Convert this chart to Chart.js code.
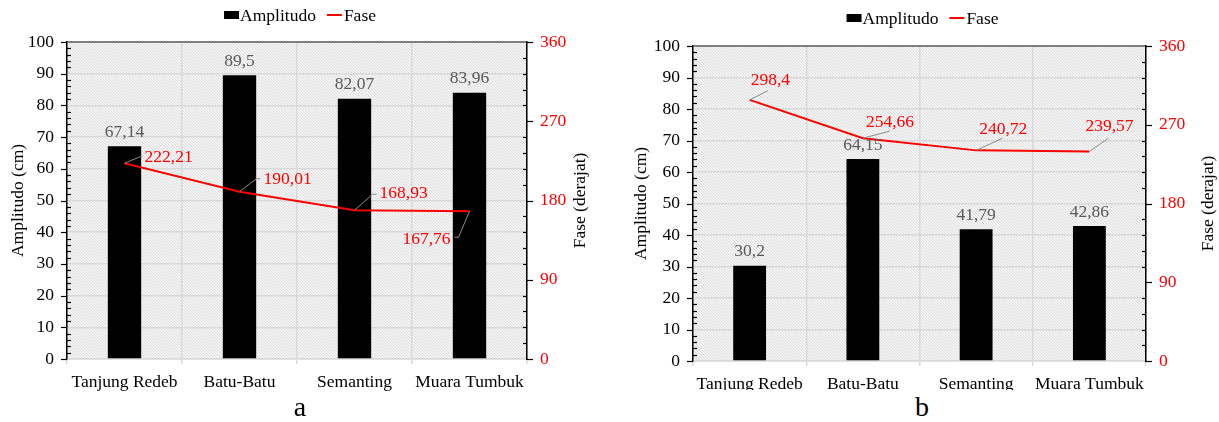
<!DOCTYPE html>
<html>
<head>
<meta charset="utf-8">
<script src="https://cdn.jsdelivr.net/npm/chart.js@4/dist/chart.umd.min.js"></script>
<style>
  html, body { margin: 0; padding: 0; background: #fff; }
  body { width: 1219px; height: 422px; overflow: hidden; position: relative; font-family: 'Liberation Serif', serif; }
  canvas { position: absolute; top: 0; }
  #ca { left: 0; }
  #cb { left: 610px; }
  .cap { position: absolute; top: 391px; font-size: 28px; line-height: 32px; color: #000; transform: translateX(-50%); }
</style>
</head>
<body>
<canvas id="ca" width="610" height="400"></canvas>
<canvas id="cb" width="609" height="390"></canvas>
<div class="cap" style="left:300px">a</div>
<div class="cap" style="left:922px">b</div>
<script>
// ---- data ----
const categories = ['Tanjung Redeb', 'Batu-Batu', 'Semanting', 'Muara Tumbuk'];
const amplitudoA = [67.14, 89.5, 82.07, 83.96];
const faseA = [222.21, 190.01, 168.93, 167.76];
const amplitudoB = [30.2, 64.15, 41.79, 42.86];
const faseB = [298.4, 254.66, 240.72, 239.57];
const amplitudoAxis = { min: 0, max: 100, step: 10, minor: 2 };
const faseAxis = { min: 0, max: 360, step: 90, minor: 18 };
const seriesNames = ['Amplitudo', 'Fase'];
const axisTitles = ['Amplitudo (cm)', 'Fase (derajat)'];

const FONT = 'Liberation Serif';
const FS = 17.5;
const fmt = v => String(v).replace('.', ',');

function hatchPattern(ctx) {
  const p = document.createElement('canvas');
  p.width = 3; p.height = 3;
  const c = p.getContext('2d');
  c.fillStyle = '#f5f5f5'; c.fillRect(0, 0, 3, 3);
  c.fillStyle = '#dcdcdc';
  for (let i = 0; i < 3; i++) c.fillRect(i, i, 1, 1);
  return ctx.createPattern(p, 'repeat');
}

const decorPlugin = {
  id: 'decor',
  beforeDraw(chart) {
    const { ctx, chartArea: a } = chart;
    ctx.save();
    ctx.fillStyle = hatchPattern(ctx);
    ctx.fillRect(a.left, a.top, a.right - a.left, a.bottom - a.top);
    ctx.restore();
  },
  afterDraw(chart, args, o) {
    const { ctx } = chart;
    const y = chart.scales.y, y1 = chart.scales.y1;
    ctx.save();
    ctx.strokeStyle = '#000';
    ctx.lineWidth = 1.2;
    const lx = y.right;
    for (let v = amplitudoAxis.min; v <= amplitudoAxis.max; v += amplitudoAxis.minor) {
      const py = Math.round(y.getPixelForValue(v)) + 0.5;
      ctx.beginPath();
      if (v % amplitudoAxis.step === 0) { ctx.moveTo(lx - 6, py); ctx.lineTo(lx, py); }
      else { ctx.moveTo(lx, py); ctx.lineTo(lx + 4, py); }
      ctx.stroke();
    }
    const rx = y1.left;
    for (let v = faseAxis.min; v <= faseAxis.max; v += faseAxis.minor) {
      const py = Math.round(y1.getPixelForValue(v)) + 0.5;
      ctx.beginPath();
      if (v % faseAxis.step === 0) { ctx.moveTo(rx, py); ctx.lineTo(rx + 6, py); }
      else { ctx.moveTo(rx - 4, py); ctx.lineTo(rx, py); }
      ctx.stroke();
    }
    ctx.fillStyle = '#000';
    ctx.font = FS + 'px "' + FONT + '"';
    ctx.textAlign = 'center';
    ctx.textBaseline = 'middle';
    const cy = (chart.chartArea.top + chart.chartArea.bottom) / 2;
    [[o.leftTitleX, axisTitles[0]], [o.rightTitleX, axisTitles[1]]].forEach(([x, t]) => {
      ctx.save();
      ctx.translate(x, cy);
      ctx.rotate(-Math.PI / 2);
      ctx.fillText(t, 0, 0);
      ctx.restore();
    });
    // legend
    const ds = chart.data.datasets;
    ctx.textAlign = 'left';
    const w0 = ctx.measureText(ds[0].label).width;
    const w1 = ctx.measureText(ds[1].label).width;
    const total = 15 + 1 + w0 + 11 + 15 + 2 + w1;
    let x = (chart.chartArea.left + chart.chartArea.right) / 2 + 3 - total / 2;
    const ly = o.legendY;
    ctx.fillStyle = ds[0].backgroundColor;
    ctx.fillRect(x, ly - 4, 15, 8);
    x += 16;
    ctx.fillStyle = '#000';
    ctx.fillText(ds[0].label, x, ly + 1);
    x += w0 + 11;
    ctx.strokeStyle = ds[1].borderColor;
    ctx.lineWidth = 2;
    ctx.beginPath(); ctx.moveTo(x, ly); ctx.lineTo(x + 15, ly); ctx.stroke();
    x += 17;
    ctx.fillText(ds[1].label, x, ly + 1);
    ctx.restore();
  },
  afterDatasetsDraw(chart, args, o) {
    const { ctx } = chart;
    ctx.save();
    ctx.font = FS + 'px "' + FONT + '"';
    ctx.textBaseline = 'middle';
    const bm = chart.getDatasetMeta(0);
    ctx.fillStyle = '#595959';
    ctx.textAlign = 'center';
    bm.data.forEach((el, i) => {
      ctx.fillText(fmt(chart.data.datasets[0].data[i]), el.x, el.y - 14);
    });
    const lm = chart.getDatasetMeta(1);
    lm.data.forEach((el, i) => {
      const L = o.lineLabels[i];
      ctx.strokeStyle = '#8c8c8c';
      ctx.lineWidth = 1;
      ctx.beginPath();
      ctx.moveTo(el.x, el.y);
      L.leader.forEach(([dx, dy]) => ctx.lineTo(el.x + dx, el.y + dy));
      ctx.stroke();
      ctx.fillStyle = '#ff0000';
      ctx.textAlign = L.align;
      ctx.fillText(fmt(chart.data.datasets[1].data[i]), el.x + L.dx, el.y + L.dy);
    });
    ctx.restore();
  }
};

function makeChart(id, amp, fase, L) {
  return new Chart(document.getElementById(id), {
    type: 'bar',
    data: {
      labels: categories,
      datasets: [
        { type: 'bar', label: seriesNames[0], data: amp, backgroundColor: '#000000', borderWidth: 0,
          barPercentage: 0.29, categoryPercentage: 1, yAxisID: 'y', order: 2 },
        { type: 'line', label: seriesNames[1], data: fase, borderColor: '#ff0000', backgroundColor: '#ff0000',
          borderWidth: 2, pointRadius: 0, tension: 0, yAxisID: 'y1', order: 1 }
      ]
    },
    options: {
      responsive: false,
      animation: false,
      layout: { padding: { top: L.top, left: 0, right: 0, bottom: 0 } },
      plugins: {
        legend: { display: false },
        tooltip: { enabled: false },
        decor: L
      },
      scales: {
        x: {
          offset: true,
          grid: { offset: true, color: '#d9d9d9', lineWidth: 1.5, drawTicks: true, tickLength: 5 },
          border: { color: '#d9d9d9', width: 1.5 },
          ticks: { color: '#000', font: { family: FONT, size: FS }, padding: 8, maxRotation: 0, autoSkip: false },
          afterFit(s) { s.height = L.xHeight; }
        },
        y: {
          position: 'left',
          min: amplitudoAxis.min, max: amplitudoAxis.max,
          ticks: { stepSize: amplitudoAxis.step, color: '#000', font: { family: FONT, size: FS }, padding: 13 },
          grid: {
            color: c => c.tick && c.tick.value === amplitudoAxis.max ? '#7f7f7f' : '#d9d9d9',
            lineWidth: c => c.tick && c.tick.value === amplitudoAxis.max ? 2 : 1.5,
            drawTicks: false
          },
          border: { color: '#000', width: 1.5 },
          afterFit(s) { s.width = L.leftW; }
        },
        y1: {
          position: 'right',
          min: faseAxis.min, max: faseAxis.max,
          ticks: { stepSize: faseAxis.step, color: '#ff0000', font: { family: FONT, size: FS }, padding: 13 },
          grid: { drawOnChartArea: false, drawTicks: false },
          border: { color: '#000', width: 1.5 },
          afterFit(s) { s.width = L.rightW; }
        }
      }
    },
    plugins: [decorPlugin]
  });
}

makeChart('ca', amplitudoA, faseA, {
  top: 42, xHeight: 41, leftW: 67, rightW: 83,
  leftTitleX: 18, rightTitleX: 580, legendY: 15,
  lineLabels: [
    { dx: 20, dy: -6, align: 'left', leader: [[14, -6], [18, -7]] },
    { dx: 24, dy: -12, align: 'left', leader: [[17, -13], [21, -13]] },
    { dx: 25, dy: -17, align: 'left', leader: [[18, -16], [22, -16]] },
    { dx: -19, dy: 28, align: 'right', leader: [[-11, 26], [-15, 26]] }
  ]
});

makeChart('cb', amplitudoB, faseB, {
  top: 46, xHeight: 29, leftW: 83, rightW: 73,
  leftTitleX: 31, rightTitleX: 598, legendY: 18,
  lineLabels: [
    { dx: 1, dy: -19, align: 'left', leader: [[18, -9]] },
    { dx: 3, dy: -16, align: 'left', leader: [[27, -7]] },
    { dx: 3, dy: -21, align: 'left', leader: [[26, -12]] },
    { dx: -4, dy: -25, align: 'left', leader: [[19, -13]] }
  ]
});
</script>
</body>
</html>
